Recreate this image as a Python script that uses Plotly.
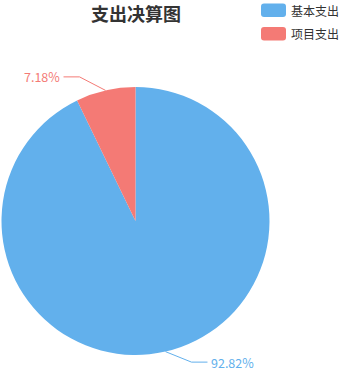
import math
import plotly.graph_objects as go

labels = ["基本支出", "项目支出"]
values = [92.82, 7.18]
colors = ["#62B0EC", "#F47A75"]
title = "支出决算图"

W, H = 339, 372
cx, cy, R = 135.5, 221, 134
FONT = "Noto Sans CJK SC, Microsoft YaHei, sans-serif"

fig = go.Figure()
fig.add_trace(go.Pie(
    labels=labels, values=values, sort=False, direction="clockwise", rotation=0,
    marker=dict(colors=colors, line=dict(width=0)), textinfo="none", hoverinfo="label+percent",
    showlegend=False,
    domain=dict(x=[(cx - R) / W, (cx + R) / W], y=[(H - cy - R) / H, (H - cy + R) / H]),
))

total = sum(values)
cum = 0.0
annotations = []
for lab, v, c in zip(labels, values, colors):
    mid = (cum + v / 2) / total * 2 * math.pi
    cum += v
    sx, sy = cx + R * math.sin(mid), cy - R * math.cos(mid)
    hs = 1 if math.sin(mid) >= 0 else -1
    vs = 1 if math.cos(mid) < 0 else -1
    ex, ey = sx + hs * 26, sy + vs * (10.5 if vs > 0 else 13.5)
    tx = ex + hs * 16
    fig.add_trace(go.Scatter(x=[sx, ex, tx], y=[sy, ey, ey], mode="lines",
                             line=dict(color=c, width=1), hoverinfo="skip", showlegend=False))
    pct = v / total * 100
    annotations.append(dict(x=tx + hs * 3, y=ey, xref="x", yref="y", text=f"{pct:.2f}%",
                            showarrow=False, xanchor="left" if hs > 0 else "right", yanchor="middle",
                            borderpad=0, font=dict(family=FONT, size=12.5, color=c)))

# title
annotations.append(dict(x=136, y=12.5, xref="x", yref="y", text=f"<b>{title}</b>", showarrow=False,
                        xanchor="center", yanchor="middle", borderpad=0,
                        font=dict(family=FONT, size=18, color="#333333")))

# custom legend
shapes = []
for i, (lab, c) in enumerate(zip(labels, colors)):
    y0 = 3.5 + i * 23.5
    x0, x1, y1 = 261, 286, y0 + 13.5
    r = 3
    path = (f"M {x0+r},{y0} L {x1-r},{y0} Q {x1},{y0} {x1},{y0+r} L {x1},{y1-r} Q {x1},{y1} {x1-r},{y1} "
            f"L {x0+r},{y1} Q {x0},{y1} {x0},{y1-r} L {x0},{y0+r} Q {x0},{y0} {x0+r},{y0} Z")
    shapes.append(dict(type="path", path=path, xref="x", yref="y", fillcolor=c, line=dict(width=0)))
    annotations.append(dict(x=290, y=(y0 + y1) / 2, xref="x", yref="y", text=lab, showarrow=False,
                            xanchor="left", yanchor="middle", borderpad=0,
                            font=dict(family=FONT, size=12, color="#333333")))

fig.update_layout(
    width=W, height=H, margin=dict(l=0, r=0, t=0, b=0),
    paper_bgcolor="white", plot_bgcolor="rgba(0,0,0,0)",
    xaxis=dict(range=[0, W], visible=False, fixedrange=True),
    yaxis=dict(range=[H, 0], visible=False, fixedrange=True),
    annotations=annotations, shapes=shapes,
)
fig.write_html("out.html")
